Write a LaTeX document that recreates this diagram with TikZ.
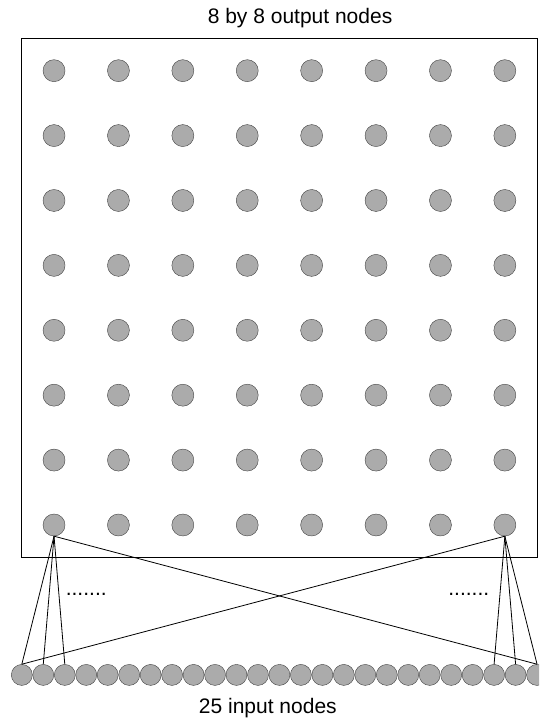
\documentclass[tikz,border=0pt]{standalone}
\usepackage{fontspec}
\setmainfont{Liberation Sans}
\begin{document}
\begin{tikzpicture}[x=64.4pt,y=64.9pt,
  outnode/.style={circle,draw=black!75,fill=black!33,inner sep=0pt,minimum size=22pt},
  innode/.style={circle,draw=black!75,fill=black!33,inner sep=0pt,minimum size=21pt},
  lbl/.style={anchor=base,font=\fontsize{21}{25}\selectfont},
  wire/.style={line width=0.8pt}]

\clip (-0.839,-3.02) rectangle (7.531,8.089);

\node[lbl] (top) at (3.82,7.72) {8 by 8 output nodes};

\draw[line width=0.9pt] (-0.5,-0.5) rectangle (7.5,7.5);

\node[outnode] (o18) at (0,7) {};
\node[outnode] (o28) at (1,7) {};
\node[outnode] (o38) at (2,7) {};
\node[outnode] (o48) at (3,7) {};
\node[outnode] (o58) at (4,7) {};
\node[outnode] (o68) at (5,7) {};
\node[outnode] (o78) at (6,7) {};
\node[outnode] (o88) at (7,7) {};

\node[outnode] (o17) at (0,6) {};
\node[outnode] (o27) at (1,6) {};
\node[outnode] (o37) at (2,6) {};
\node[outnode] (o47) at (3,6) {};
\node[outnode] (o57) at (4,6) {};
\node[outnode] (o67) at (5,6) {};
\node[outnode] (o77) at (6,6) {};
\node[outnode] (o87) at (7,6) {};

\node[outnode] (o16) at (0,5) {};
\node[outnode] (o26) at (1,5) {};
\node[outnode] (o36) at (2,5) {};
\node[outnode] (o46) at (3,5) {};
\node[outnode] (o56) at (4,5) {};
\node[outnode] (o66) at (5,5) {};
\node[outnode] (o76) at (6,5) {};
\node[outnode] (o86) at (7,5) {};

\node[outnode] (o15) at (0,4) {};
\node[outnode] (o25) at (1,4) {};
\node[outnode] (o35) at (2,4) {};
\node[outnode] (o45) at (3,4) {};
\node[outnode] (o55) at (4,4) {};
\node[outnode] (o65) at (5,4) {};
\node[outnode] (o75) at (6,4) {};
\node[outnode] (o85) at (7,4) {};

\node[outnode] (o14) at (0,3) {};
\node[outnode] (o24) at (1,3) {};
\node[outnode] (o34) at (2,3) {};
\node[outnode] (o44) at (3,3) {};
\node[outnode] (o54) at (4,3) {};
\node[outnode] (o64) at (5,3) {};
\node[outnode] (o74) at (6,3) {};
\node[outnode] (o84) at (7,3) {};

\node[outnode] (o13) at (0,2) {};
\node[outnode] (o23) at (1,2) {};
\node[outnode] (o33) at (2,2) {};
\node[outnode] (o43) at (3,2) {};
\node[outnode] (o53) at (4,2) {};
\node[outnode] (o63) at (5,2) {};
\node[outnode] (o73) at (6,2) {};
\node[outnode] (o83) at (7,2) {};

\node[outnode] (o12) at (0,1) {};
\node[outnode] (o22) at (1,1) {};
\node[outnode] (o32) at (2,1) {};
\node[outnode] (o42) at (3,1) {};
\node[outnode] (o52) at (4,1) {};
\node[outnode] (o62) at (5,1) {};
\node[outnode] (o72) at (6,1) {};
\node[outnode] (o82) at (7,1) {};

\node[outnode] (o11) at (0,0) {};
\node[outnode] (o21) at (1,0) {};
\node[outnode] (o31) at (2,0) {};
\node[outnode] (o41) at (3,0) {};
\node[outnode] (o51) at (4,0) {};
\node[outnode] (o61) at (5,0) {};
\node[outnode] (o71) at (6,0) {};
\node[outnode] (o81) at (7,0) {};

\node[lbl] (ldots) at (0.5,-1.08) {.......};
\node[lbl] (rdots) at (6.44,-1.08) {.......};

\node[innode] (in1) at (-0.5,-2.31) {};
\node[innode] (in2) at (-0.167,-2.31) {};
\node[innode] (in3) at (0.167,-2.31) {};
\node[innode] (in4) at (0.5,-2.31) {};
\node[innode] (in5) at (0.833,-2.31) {};
\node[innode] (in6) at (1.167,-2.31) {};
\node[innode] (in7) at (1.5,-2.31) {};
\node[innode] (in8) at (1.833,-2.31) {};
\node[innode] (in9) at (2.167,-2.31) {};
\node[innode] (in10) at (2.5,-2.31) {};
\node[innode] (in11) at (2.833,-2.31) {};
\node[innode] (in12) at (3.167,-2.31) {};
\node[innode] (in13) at (3.5,-2.31) {};
\node[innode] (in14) at (3.833,-2.31) {};
\node[innode] (in15) at (4.167,-2.31) {};
\node[innode] (in16) at (4.5,-2.31) {};
\node[innode] (in17) at (4.833,-2.31) {};
\node[innode] (in18) at (5.167,-2.31) {};
\node[innode] (in19) at (5.5,-2.31) {};
\node[innode] (in20) at (5.833,-2.31) {};
\node[innode] (in21) at (6.167,-2.31) {};
\node[innode] (in22) at (6.5,-2.31) {};
\node[innode] (in23) at (6.833,-2.31) {};
\node[innode] (in24) at (7.167,-2.31) {};
\node[innode] (in25) at (7.5,-2.31) {};

\draw[wire] (o11.south) -- (in1.north);
\draw[wire] (o11.south) -- (in2.north);
\draw[wire] (o11.south) -- (in3.north);
\draw[wire] (o11.south) -- (in25.north);

\draw[wire] (o81.south) -- (in23.north);
\draw[wire] (o81.south) -- (in24.north);
\draw[wire] (o81.south) -- (in25.north);
\draw[wire] (o81.south) -- (in1.north);

\node[lbl] (bottom) at (3.32,-2.9) {25 input nodes};
\end{tikzpicture}
\end{document}
